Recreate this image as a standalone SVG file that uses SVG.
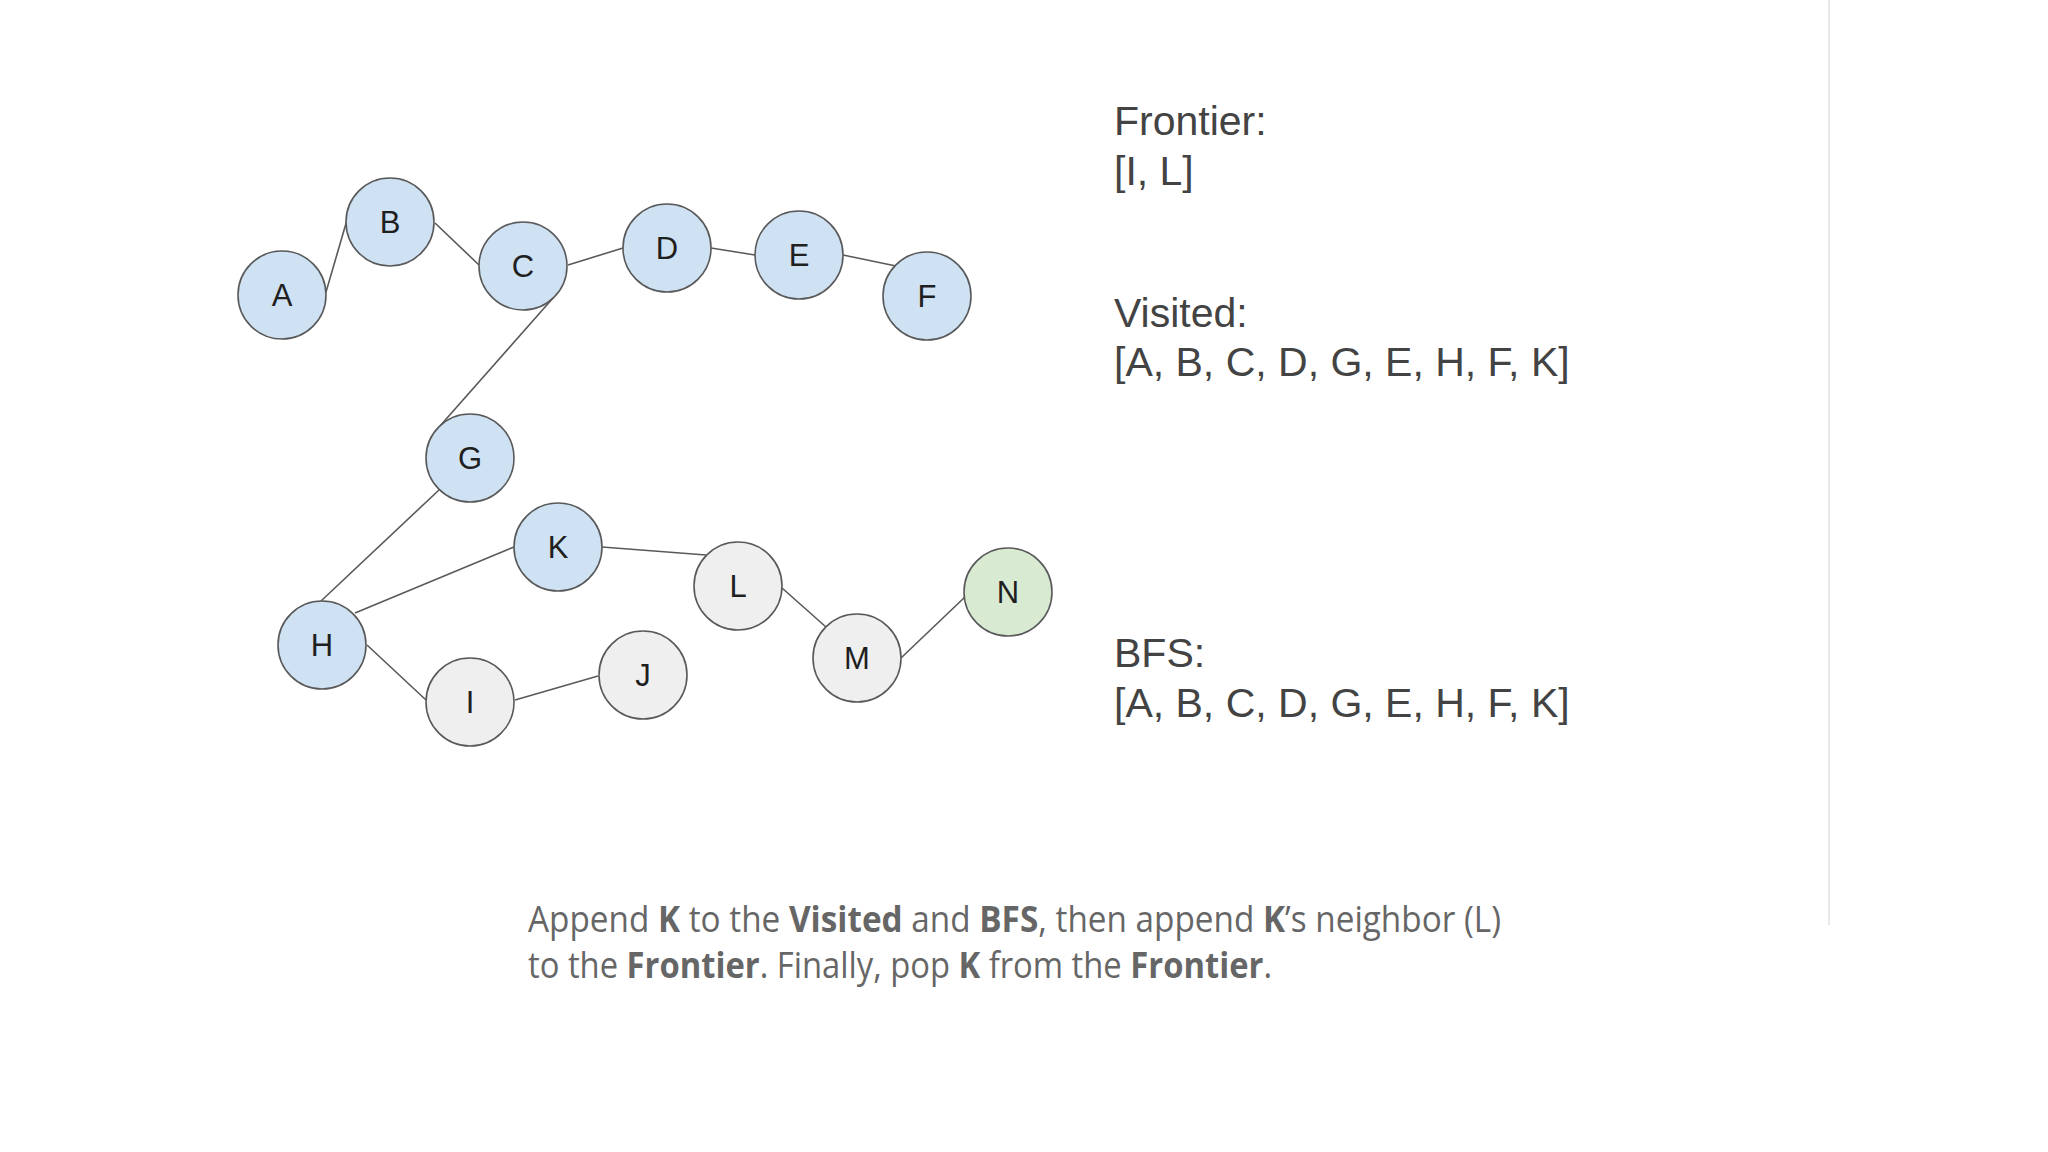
<svg xmlns="http://www.w3.org/2000/svg" width="2048" height="1152" viewBox="0 0 2048 1152">
<style>
.n circle{stroke:#595959;stroke-width:1.6}
.v circle{fill:#cfe2f3}
.u circle{fill:#efefef}
.g circle{fill:#d9ead3}
.n text{font-family:"Liberation Sans",Arial,sans-serif;font-size:31px;fill:#1f1f1f;text-anchor:middle;dominant-baseline:central}
.e line{stroke:#595959;stroke-width:1.6}
.side{font-family:"Liberation Sans",Arial,sans-serif;font-size:41px;fill:#434343}
.cap{font-family:"Open Sans","Liberation Sans",sans-serif;font-size:36px;fill:#666666}
.cap .b{font-weight:bold}
</style>
<rect width="2048" height="1152" fill="#ffffff"/>
<line x1="1829" y1="0" x2="1829" y2="925" stroke="#e8e8e8" stroke-width="2"/>
<g id="connectors" class="e">
<line x1="326" y1="292" x2="347" y2="220"/>
<line x1="435" y1="223" x2="479" y2="265"/>
<line x1="568" y1="265" x2="623" y2="248"/>
<line x1="711" y1="248" x2="755" y2="255"/>
<line x1="843" y1="255" x2="896" y2="266"/>
<line x1="553" y1="298" x2="440" y2="426"/>
<line x1="439" y1="490" x2="321" y2="601"/>
<line x1="355" y1="613" x2="514" y2="547"/>
<line x1="367" y1="645" x2="426" y2="700"/>
<line x1="515" y1="700" x2="598" y2="676"/>
<line x1="602" y1="547" x2="706" y2="555"/>
<line x1="782" y1="588" x2="826" y2="627"/>
<line x1="901" y1="658" x2="966" y2="596"/>
</g>
<g id="node-A" class="n v"><circle cx="282" cy="295" r="44"/><text x="282" y="295">A</text></g>
<g id="node-B" class="n v"><circle cx="390" cy="222" r="44"/><text x="390" y="222">B</text></g>
<g id="node-C" class="n v"><circle cx="523" cy="266" r="44"/><text x="523" y="266">C</text></g>
<g id="node-D" class="n v"><circle cx="667" cy="248" r="44"/><text x="667" y="248">D</text></g>
<g id="node-E" class="n v"><circle cx="799" cy="255" r="44"/><text x="799" y="255">E</text></g>
<g id="node-F" class="n v"><circle cx="927" cy="296" r="44"/><text x="927" y="296">F</text></g>
<g id="node-G" class="n v"><circle cx="470" cy="458" r="44"/><text x="470" y="458">G</text></g>
<g id="node-K" class="n v"><circle cx="558" cy="547" r="44"/><text x="558" y="547">K</text></g>
<g id="node-H" class="n v"><circle cx="322" cy="645" r="44"/><text x="322" y="645">H</text></g>
<g id="node-I" class="n u"><circle cx="470" cy="702" r="44"/><text x="470" y="702">I</text></g>
<g id="node-J" class="n u"><circle cx="643" cy="675" r="44"/><text x="643" y="675">J</text></g>
<g id="node-L" class="n u"><circle cx="738" cy="586" r="44"/><text x="738" y="586">L</text></g>
<g id="node-M" class="n u"><circle cx="857" cy="658" r="44"/><text x="857" y="658">M</text></g>
<g id="node-N" class="n g"><circle cx="1008" cy="592" r="44"/><text x="1008" y="592">N</text></g>
<g id="status">
<text class="side" x="1114" y="135">Frontier:</text>
<text class="side" x="1114" y="185">[I, L]</text>
<text class="side" x="1114" y="327">Visited:</text>
<text class="side" x="1114" y="376">[A, B, C, D, G, E, H, F, K]</text>
<text class="side" x="1114" y="667">BFS:</text>
<text class="side" x="1114" y="717">[A, B, C, D, G, E, H, F, K]</text>
</g>
<g id="caption">
<text class="cap" x="528" y="932" textLength="973" lengthAdjust="spacingAndGlyphs">Append <tspan class="b">K</tspan> to the <tspan class="b">Visited</tspan> and <tspan class="b">BFS</tspan>, then append <tspan class="b">K</tspan>’s neighbor (L)</text>
<text class="cap" x="528" y="978" textLength="744" lengthAdjust="spacingAndGlyphs">to the <tspan class="b">Frontier</tspan>. Finally, pop <tspan class="b">K</tspan> from the <tspan class="b">Frontier</tspan>.</text>
</g>
</svg>
